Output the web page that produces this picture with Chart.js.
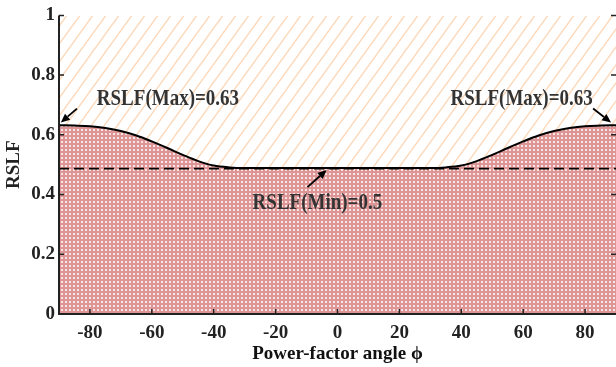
<!DOCTYPE html>
<html>
<head>
<meta charset="utf-8">
<script src="https://cdn.jsdelivr.net/npm/chart.js@4"></script>
<style>
html,body{margin:0;padding:0;background:#fff;}
#wrap{width:616px;height:367px;}
</style>
</head>
<body>
<div id="wrap"><canvas id="c" width="616" height="367"></canvas></div>
<script>
// ---- data ----
const angles = [-90,-85,-80,-75,-70,-65,-60,-55,-50,-45,-40,-35,-30,-20,-10,0,10,20,30,35,40,45,50,55,60,65,70,75,80,85,90];
const rslf   = [0.632,0.631,0.629,0.623,0.613,0.598,0.578,0.556,0.533,0.512,0.497,0.491,0.489,0.489,0.489,0.489,0.489,0.489,0.489,0.491,0.497,0.512,0.533,0.556,0.578,0.598,0.613,0.623,0.629,0.631,0.632];
const minLine = 0.487;
const upperLimit = 1;
const xTicks = [-80,-60,-40,-20,0,20,40,60,80];
const yTicks = [0,0.2,0.4,0.6,0.8,1];
const labelMax = 'RSLF(Max)=0.63';
const labelMin = 'RSLF(Min)=0.5';

// ---- patterns ----
function dotPattern(){
  const c=document.createElement('canvas'); c.width=4; c.height=4;
  const g=c.getContext('2d');
  g.fillStyle='#dd9595'; g.fillRect(0,0,4,4);
  g.fillStyle='#f8e4e4'; g.fillRect(1,1,2,2);
  return g.createPattern(c,'repeat');
}
function hatchPattern(){
  const w=13,h=18;
  const c=document.createElement('canvas'); c.width=w; c.height=h;
  const g=c.getContext('2d');
  g.fillStyle='#ffffff'; g.fillRect(0,0,w,h);
  g.strokeStyle='#fcd9bb'; g.lineWidth=1.4;
  g.beginPath();
  g.moveTo(-w,2*h); g.lineTo(2*w,-h);
  g.moveTo(-2*w,2*h); g.lineTo(w,-h);
  g.moveTo(0,2*h); g.lineTo(3*w,-h);
  g.stroke();
  return g.createPattern(c,'repeat');
}

const FONT = '"Liberation Serif","Times New Roman",serif';

const annotations = {
  texts: [
    {x:-54.8, y:0.718, text:labelMax},
    {x:59.5, y:0.718, text:labelMax},
    {x:-6.5, y:0.372, text:labelMin}
  ],
  arrows: [
    {x1:-84.2, y1:0.688, x2:-89.4, y2:0.641},
    {x1:82.6, y1:0.688, x2:88.4, y2:0.641},
    {x1:-9.7, y1:0.425, x2:-3.5, y2:0.482}
  ]
};

const decor = {
  id:'decor',
  afterDatasetsDraw(chart){
    const {ctx, chartArea:a, scales:{x,y}} = chart;
    ctx.save();
    ctx.strokeStyle='#222'; ctx.lineWidth=2;
    ctx.beginPath();
    ctx.moveTo(a.left, a.top); ctx.lineTo(a.left, a.bottom); ctx.lineTo(a.right, a.bottom);
    ctx.stroke();
    ctx.lineWidth=1.5;
    ctx.beginPath();
    xTicks.forEach(v=>{const px=x.getPixelForValue(v); ctx.moveTo(px,a.bottom); ctx.lineTo(px,a.bottom-5);});
    yTicks.forEach(v=>{const py=y.getPixelForValue(v); ctx.moveTo(a.left,py); ctx.lineTo(a.left+5,py); ctx.moveTo(a.right,py); ctx.lineTo(a.right-5,py);});
    ctx.stroke();
    // annotations (text slightly stretched vertically like the reference)
    ctx.fillStyle='#333';
    ctx.font='bold 19px '+FONT;
    ctx.textAlign='center'; ctx.textBaseline='middle';
    annotations.texts.forEach(t=>{
      const px=x.getPixelForValue(t.x), py=y.getPixelForValue(t.y);
      ctx.save(); ctx.translate(px,py); ctx.scale(1,1.2); ctx.fillText(t.text,0,0); ctx.restore();
    });
    ctx.strokeStyle='#000'; ctx.fillStyle='#000'; ctx.lineWidth=1.8;
    annotations.arrows.forEach(ar=>{
      const x1=x.getPixelForValue(ar.x1), y1=y.getPixelForValue(ar.y1);
      const x2=x.getPixelForValue(ar.x2), y2=y.getPixelForValue(ar.y2);
      const ang=Math.atan2(y2-y1,x2-x1), L=9, W=4;
      const bx=x2-L*Math.cos(ang), by=y2-L*Math.sin(ang);
      ctx.beginPath(); ctx.moveTo(x1,y1); ctx.lineTo(bx,by); ctx.stroke();
      ctx.beginPath();
      ctx.moveTo(x2,y2);
      ctx.lineTo(bx+W*Math.sin(ang), by-W*Math.cos(ang));
      ctx.lineTo(bx-W*Math.sin(ang), by+W*Math.cos(ang));
      ctx.closePath(); ctx.fill();
    });
    ctx.restore();
  }
};

const pts = angles.map((a,i)=>({x:a,y:rslf[i]}));

new Chart(document.getElementById('c'), {
  type:'line',
  data:{
    datasets:[
      {label:'RSLF', data:pts, borderColor:'#000', borderWidth:2, backgroundColor:dotPattern(),
       fill:'origin', pointRadius:0, cubicInterpolationMode:'monotone', order:1},
      {label:'upper', data:angles.map(a=>({x:a,y:upperLimit})), borderWidth:0, borderColor:'rgba(0,0,0,0)',
       backgroundColor:hatchPattern(), fill:0, pointRadius:0, order:2},
      {label:'min', data:[{x:-90,y:minLine},{x:90,y:minLine}], borderColor:'#000', borderWidth:1.6,
       borderDash:[10,5], fill:false, pointRadius:0, order:0}
    ]
  },
  options:{
    responsive:false, animation:false,
    layout:{padding:{top:13,right:0,left:0,bottom:0}},
    plugins:{legend:{display:false}, tooltip:{enabled:false}},
    scales:{
      x:{type:'linear', min:-90, max:90,
        afterBuildTicks(s){ s.ticks = xTicks.map(v=>({value:v})); },
        afterFit(s){ s.height = 53; },
        grid:{display:false, drawTicks:false}, border:{display:false},
        ticks:{padding:8, color:'#222', font:{family:FONT, size:19, weight:'bold'}, maxRotation:0, autoSkip:false},
        title:{display:true, text:'Power-factor angle \u03D5', color:'#111', padding:{top:0,bottom:2},
          font:{family:FONT, size:19, weight:'bold'}}
      },
      y:{min:0, max:1,
        afterBuildTicks(s){ s.ticks = yTicks.map(v=>({value:v})); },
        afterFit(s){ s.width = 59; },
        grid:{display:false, drawTicks:false}, border:{display:false},
        ticks:{padding:4, color:'#222', font:{family:FONT, size:19, weight:'bold'},
          callback:v=>String(Math.round(v*10)/10)},
        title:{display:true, text:'RSLF', color:'#222', padding:{top:3,bottom:0},
          font:{family:FONT, size:19, weight:'bold'}}
      }
    }
  },
  plugins:[decor]
});
</script>
</body>
</html>
